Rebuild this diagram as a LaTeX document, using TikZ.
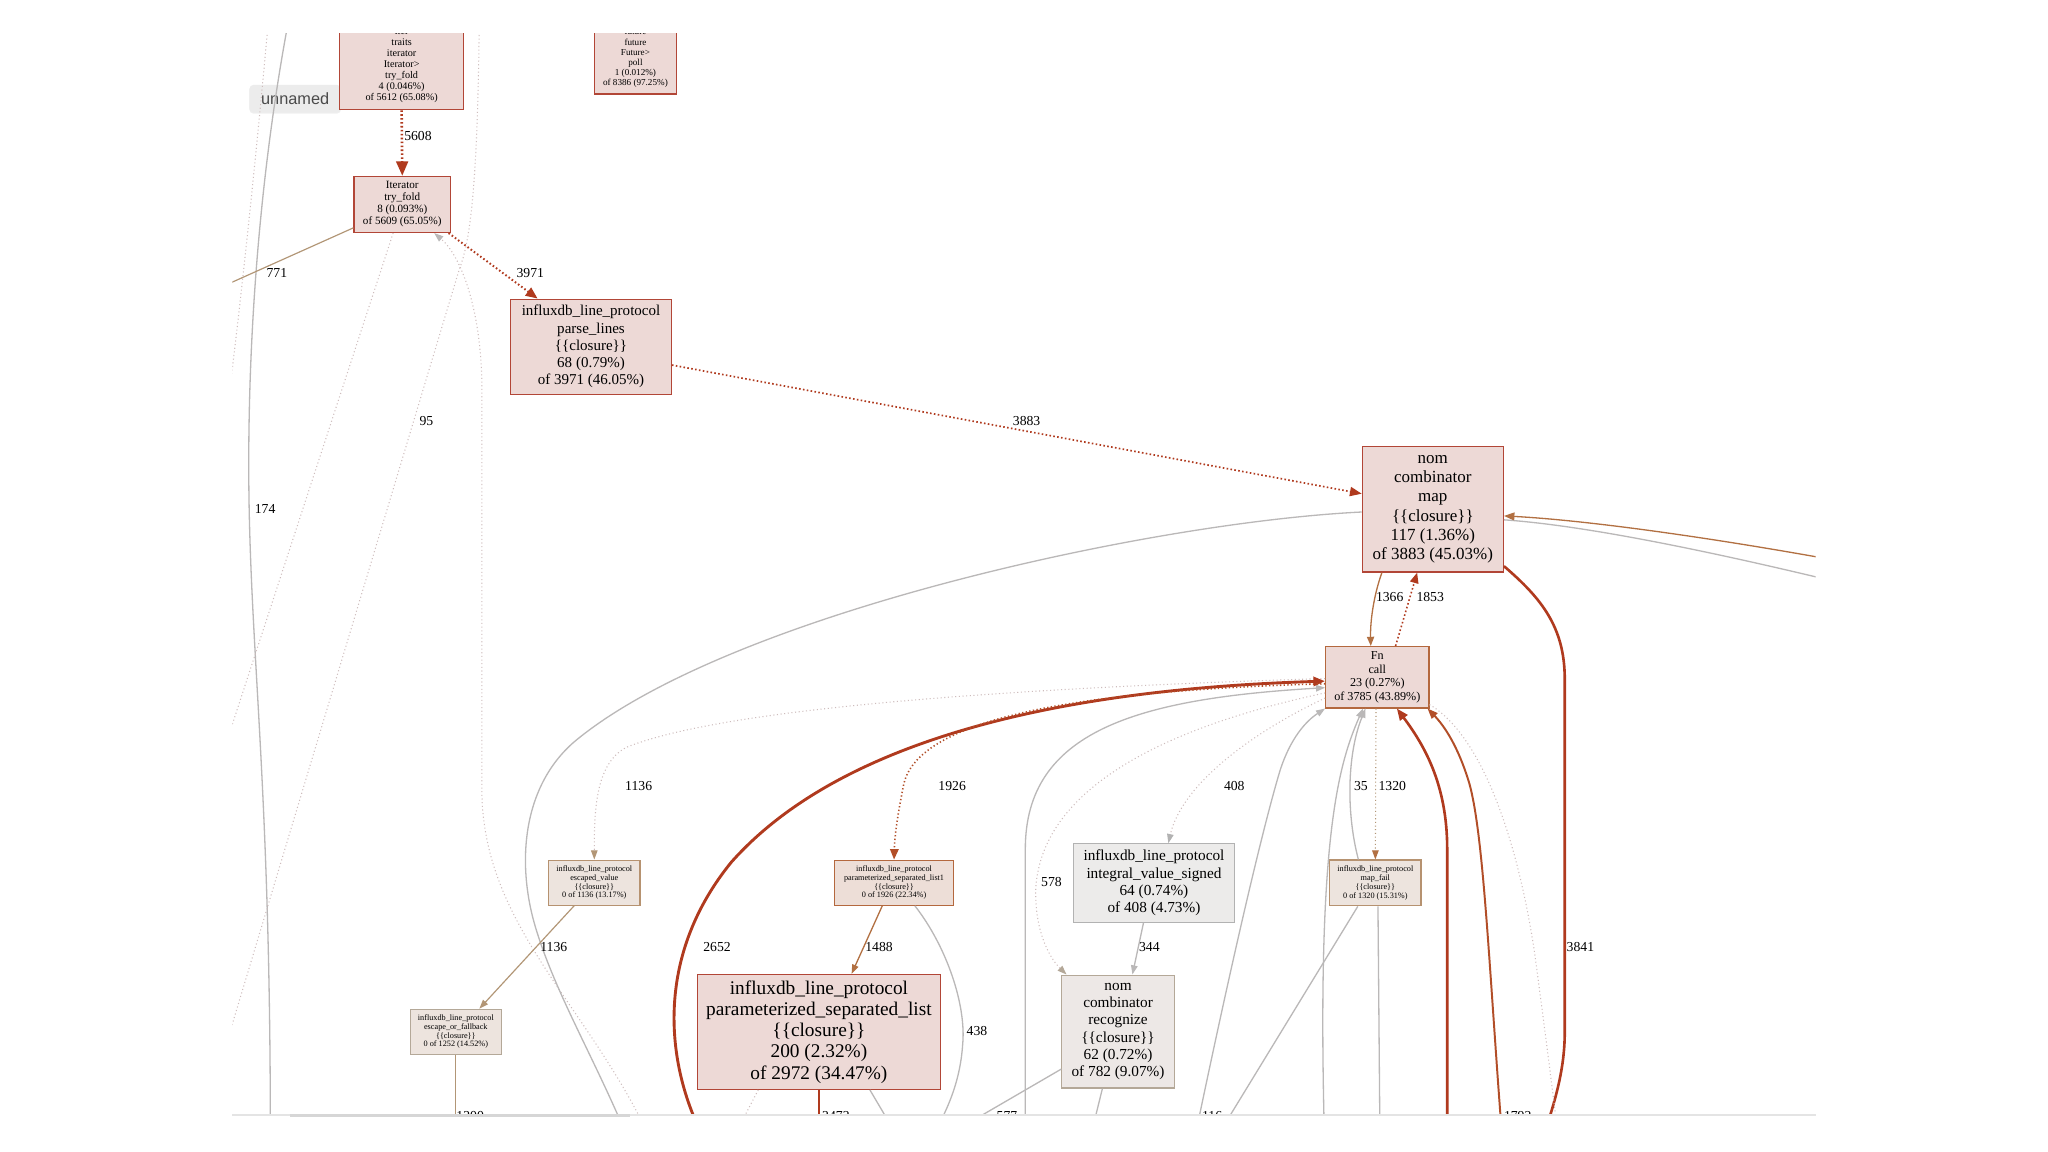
\documentclass[tikz,border=0pt]{standalone}
\usepackage{fontspec}
\setmainfont{Liberation Serif}
\newfontfamily\uifont{Liberation Sans}
\usepackage{tikz}
\usetikzlibrary{arrows.meta, calc, shadows}
\definecolor{hotred}{RGB}{176,58,30}
\definecolor{warmred}{RGB}{178,78,40}
\definecolor{brownedge}{RGB}{178,112,66}
\definecolor{tanedge}{RGB}{178,150,118}
\definecolor{greyedge}{RGB}{186,184,184}
\definecolor{faintedge}{RGB}{206,188,188}
\definecolor{hotfill}{RGB}{237,217,214}
\definecolor{hotborder}{RGB}{178,70,55}
\definecolor{warmfill}{RGB}{237,222,215}
\definecolor{warmborder}{RGB}{180,104,62}
\definecolor{tanfill}{RGB}{237,228,222}
\definecolor{tanborder}{RGB}{182,146,112}
\definecolor{coolfill}{RGB}{236,235,234}
\definecolor{coolborder}{RGB}{178,178,178}
\definecolor{ashfill}{RGB}{237,232,230}
\definecolor{ashborder}{RGB}{180,168,152}
\definecolor{tipgrey}{RGB}{236,236,236}
\definecolor{tiptext}{RGB}{75,75,75}
\definecolor{framegrey}{RGB}{228,228,228}
\definecolor{bargrey}{RGB}{214,214,214}

\tikzset{
  fnode/.style={draw, rectangle, inner sep=0pt, align=center, line width=0.9pt},
  hotnode/.style={fnode, fill=hotfill, draw=hotborder},
  warmnode/.style={fnode, fill=warmfill, draw=warmborder},
  tannode/.style={fnode, fill=tanfill, draw=tanborder},
  coolnode/.style={fnode, fill=coolfill, draw=coolborder},
  ashnode/.style={fnode, fill=ashfill, draw=ashborder},
  elabel/.style={inner sep=0pt, font=\fontsize{10.5}{12}\selectfont},
  hotline/.style={draw=hotred, line width=2pt},
  hotdot/.style={draw=hotred, line width=1.5pt, dash pattern=on 1.2pt off 1.8pt},
  warmdot/.style={draw=warmred, line width=1.2pt, dash pattern=on 1pt off 1.8pt},
  brownline/.style={draw=brownedge, line width=1pt},
  tanline/.style={draw=tanedge, line width=0.9pt},
  greyline/.style={draw=greyedge, line width=1pt},
  faintdot/.style={draw=faintedge, line width=0.8pt, dash pattern=on 0.8pt off 2pt}
}

\begin{document}
\begin{tikzpicture}[x=1pt, y=-1pt]
\useasboundingbox (0,0) rectangle (1568,882);
\fill[white] (0,0) rectangle (1568,882);

\begin{scope}
\clip (178,26) rectangle (1390,853);

% tooltip of the viewer
\node[fill=tipgrey, rounded corners=3pt, minimum width=70pt, minimum height=21pt, inner sep=0pt, text=tiptext, font=\uifont\fontsize{12.5}{14}\selectfont, drop shadow={opacity=0.12, shadow xshift=0pt, shadow yshift=-1pt}] (unnamed) at (226,75.5) {unnamed};

% call graph nodes
\node[hotnode, minimum width=95pt, minimum height=68pt, font=\fontsize{7.8}{8.4}\selectfont] (trt) at (307.5,50) {iter\\traits\\iterator\\Iterator>\\try\_fold\\4 (0.046\%)\\of 5612 (65.08\%)};
\node[hotnode, minimum width=63pt, minimum height=55pt, font=\fontsize{7}{7.8}\selectfont] (fpoll) at (486.5,44.5) {future\\future\\Future>\\poll\\1 (0.012\%)\\of 8386 (97.25\%)};
\node[hotnode, minimum width=74pt, minimum height=43pt, font=\fontsize{8.5}{9.2}\selectfont] (itf) at (308,156.5) {Iterator\\try\_fold\\8 (0.093\%)\\of 5609 (65.05\%)};
\node[hotnode, minimum width=123pt, minimum height=73pt, font=\fontsize{11.5}{13.2}\selectfont] (pl) at (452.5,265.5) {influxdb\_line\_protocol\\parse\_lines\\\{\{closure\}\}\\68 (0.79\%)\\of 3971 (46.05\%)};
\node[hotnode, minimum width=108pt, minimum height=96pt, font=\fontsize{13}{14.7}\selectfont] (nmap) at (1097,390) {nom\\combinator\\map\\\{\{closure\}\}\\117 (1.36\%)\\of 3883 (45.03\%)};
\node[hotnode, draw=warmborder, minimum width=79pt, minimum height=47pt, font=\fontsize{9.3}{10.5}\selectfont] (fncall) at (1054.5,518.5) {Fn\\call\\23 (0.27\%)\\of 3785 (43.89\%)};
\node[tannode, minimum width=70pt, minimum height=34.5pt, font=\fontsize{6.3}{6.7}\selectfont] (escv) at (455,675.8) {influxdb\_line\_protocol\\escaped\_value\\\{\{closure\}\}\\0 of 1136 (13.17\%)};
\node[warmnode, minimum width=91pt, minimum height=34.5pt, font=\fontsize{6.3}{6.7}\selectfont] (psl1) at (684.5,675.8) {influxdb\_line\_protocol\\parameterized\_separated\_list1\\\{\{closure\}\}\\0 of 1926 (22.34\%)};
\node[tannode, minimum width=70pt, minimum height=35pt, font=\fontsize{6.3}{6.7}\selectfont] (mapf) at (1053,676) {influxdb\_line\_protocol\\map\_fail\\\{\{closure\}\}\\0 of 1320 (15.31\%)};
\node[tannode, draw=ashborder, minimum width=70pt, minimum height=34.5pt, font=\fontsize{6.3}{6.7}\selectfont] (eof) at (349,790) {influxdb\_line\_protocol\\escape\_or\_fallback\\\{\{closure\}\}\\0 of 1252 (14.52\%)};
\node[hotnode, minimum width=186pt, minimum height=88pt, font=\fontsize{14.8}{16.3}\selectfont] (psl) at (627,790) {influxdb\_line\_protocol\\parameterized\_separated\_list\\\{\{closure\}\}\\200 (2.32\%)\\of 2972 (34.47\%)};
\node[coolnode, minimum width=123pt, minimum height=60pt, font=\fontsize{11.7}{13.3}\selectfont] (ivs) at (883.5,676) {influxdb\_line\_protocol\\integral\_value\_signed\\64 (0.74\%)\\of 408 (4.73\%)};
\node[ashnode, minimum width=86pt, minimum height=86.5pt, font=\fontsize{11.7}{13.3}\selectfont] (nrec) at (856,789.8) {nom\\combinator\\recognize\\\{\{closure\}\}\\62 (0.72\%)\\of 782 (9.07\%)};

% ends of edges that leave the view
\coordinate (topa) at (206,10);
\coordinate (lefta) at (172,330);
\coordinate (top174) at (222,10);
\coordinate (bot174) at (207,870);
\coordinate (off771) at (160,224);
\coordinate (offb) at (163,600);
\coordinate (top95) at (367,10);
\coordinate (bot95) at (152,870);
\coordinate (botd) at (497,870);
\coordinate (botg) at (480,870);
\coordinate (bot2652) at (538,870);
\coordinate (botgf) at (785,870);
\coordinate (bot438) at (714,870);
\coordinate (botpg) at (687,870);
\coordinate (botpd) at (562,870);
\coordinate (bot2472) at (627,870);
\coordinate (bot1200) at (349,870);
\coordinate (bot577) at (724,870);
\coordinate (botnr) at (835,870);
\coordinate (bot116) at (915,870);
\coordinate (botml) at (932,870);
\coordinate (botmd) at (1056.5,870);
\coordinate (bot24) at (1014,870);
\coordinate (botr) at (1108,870);
\coordinate (bot1792) at (1150,870);
\coordinate (botdr) at (1193,870);
\coordinate (bot3841) at (1180,875);
\coordinate (rbrown) at (1400,428);
\coordinate (rgrey) at (1400,444);

% left side
\draw[faintdot] (topa) .. controls (198,100) and (186,220) .. (lefta);
\draw[greyline] (top174) .. controls (197,140) and (188,280) .. (191,400) .. controls (194,520) and (207,620) .. (bot174);
\draw[tanline] ($(itf.south west)+(0,-4)$) -- (off771);
\draw[faintdot] ($(itf.south)+(-7,0)$) -- (offb);
\draw[faintdot] (top95) .. controls (366,120) and (362,180) .. (352,205) -- (bot95);
\draw[faintdot, -{Triangle[length=7pt,width=5pt,color=greyedge]}] (botd) .. controls (450,770) and (372,710) .. (369,610) -- (369,300) .. controls (369,235) and (352,195) .. ($(itf.south east)+(-13,0)$);
\draw[greyline] ($(nmap.west)+(0,2)$) .. controls (880,400) and (560,470) .. (442,566) .. controls (400,600) and (395,660) .. (410,710) .. controls (425,760) and (455,810) .. (botg);

% hot path
\draw[hotdot, line width=2pt, -{Triangle[length=11pt,width=9pt]}] (trt.south) -- (itf.north);
\draw[hotdot, -{Triangle[length=9pt,width=7.5pt]}] ($(itf.south east)+(-2,0)$) -- ($(pl.north west)+(21,0)$);
\draw[hotdot, line width=1.3pt, -{Triangle[length=9pt,width=7pt]}] ($(pl.east)+(0,14)$) -- ($(nmap.west)+(0,-12)$);
\draw[brownline, -{Triangle[length=7pt,width=5.5pt]}] ($(nmap.south)+(-39,0)$) .. controls (1052,455) and (1049,475) .. ($(fncall.north)+(-5,0)$);
\draw[hotdot, line width=1.2pt, -{Triangle[length=8pt,width=6.5pt]}] ($(fncall.north)+(14,0)$) -- ($(nmap.south)+(-12,0)$);
\draw[hotline] ($(nmap.south east)+(0,-5)$) .. controls (1180,458) and (1198,480) .. (1198,520) -- (1198,790) .. controls (1198,820) and (1190,845) .. (bot3841);
\draw[greyline] (rgrey) .. controls (1300,420) and (1210,402) .. ($(nmap.east)+(0,8)$);
\draw[brownline, -{Triangle[length=8pt,width=6pt]}] (rbrown) .. controls (1300,410) and (1210,398) .. ($(nmap.east)+(0,5)$);

% out of Fn call
\draw[faintdot, -{Triangle[length=7pt,width=5pt,color=tanedge]}] ($(fncall.west)+(0,1)$) .. controls (800,526) and (560,540) .. (480,572) .. controls (456,584) and (455,620) .. (escv.north);
\draw[greyline, -{Triangle[length=7pt,width=5pt]}] (botgf) -- (785,650) .. controls (785,560) and (870,535) .. ($(fncall.west)+(0,8)$);
\draw[hotline, line width=2.2pt, -{Triangle[length=9pt,width=7pt]}] (bot2652) .. controls (508,810) and (503,730) .. (560,660) .. controls (640,570) and (800,528) .. ($(fncall.west)+(0,3)$);
\draw[warmdot, -{Triangle[length=8pt,width=6.5pt]}] ($(fncall.west)+(0,5)$) .. controls (850,528) and (705,545) .. (692,600) .. controls (687,625) and (685,640) .. (psl1.north);
\draw[faintdot, -{Triangle[length=7pt,width=5pt,color=ashborder]}] ($(fncall.west)+(0,12)$) .. controls (900,555) and (798,600) .. (793,680) .. controls (792,715) and (805,735) .. ($(nrec.north west)+(4,0)$);
\draw[faintdot, -{Triangle[length=7pt,width=5pt,color=coolborder]}] ($(fncall.south west)+(0,-8)$) .. controls (960,560) and (905,600) .. ($(ivs.north)+(11,0)$);
\draw[greyline, -{Triangle[length=7pt,width=5pt]}] (bot116) .. controls (940,750) and (965,640) .. (980,590) .. controls (988,565) and (1000,552) .. (fncall.south west);
\draw[greyline, -{Triangle[length=7pt,width=5pt]}] (bot24) .. controls (1008,640) and (1025,585) .. ($(fncall.south)+(-11,0)$);
\draw[greyline, -{Triangle[length=7pt,width=5pt]}] ($(mapf.north)+(-13,0)$) .. controls (1030,620) and (1032,575) .. ($(fncall.south)+(-9,0)$);
\draw[faintdot, draw=tanedge, -{Triangle[length=7pt,width=5pt,color=brownedge]}] ($(fncall.south)+(-1,0)$) -- (mapf.north);
\draw[hotline, -{Triangle[length=9pt,width=7pt]}] (botr) -- (1108,650) .. controls (1108,600) and (1090,570) .. ($(fncall.south east)+(-25,0)$);
\draw[hotline, draw=warmred, line width=1.5pt, -{Triangle[length=8pt,width=6pt]}] (bot1792) .. controls (1140,740) and (1136,640) .. (1125,600) .. controls (1116,570) and (1105,555) .. ($(fncall.south east)+(-1.5,0)$);
\draw[faintdot] ($(fncall.south east)+(0,-3)$) .. controls (1130,560) and (1160,630) .. (1175,730) .. controls (1183,790) and (1188,830) .. (botdr);

% lower nodes
\draw[greyline, -{Triangle[length=7pt,width=5pt]}] ($(ivs.south)+(-8,0)$) -- ($(nrec.north)+(11,0)$);
\draw[brownline, -{Triangle[length=7pt,width=5pt]}] ($(psl1.south)+(-9,0)$) -- ($(psl.north)+(25,0)$);
\draw[greyline] ($(psl1.south east)+(-30,0)$) .. controls (725,725) and (740,770) .. (737,800) .. controls (735,830) and (724,852) .. (bot438);
\draw[greyline] ($(psl.south)+(39,0)$) -- (botpg);
\draw[faintdot] ($(psl.south west)+(47,0)$) -- (botpd);
\draw[hotline, line width=1.8pt] (psl.south) -- (bot2472);
\draw[tanline, -{Triangle[length=7pt,width=5pt]}] ($(escv.south west)+(20,0)$) -- ($(eof.north)+(18,0)$);
\draw[tanline] (eof.south) -- (bot1200);
\draw[greyline] ($(nrec.south west)+(0,-15)$) -- (bot577);
\draw[greyline] ($(nrec.south)+(-12,0)$) -- (botnr);
\draw[greyline] ($(mapf.south west)+(22,0)$) -- (botml);
\draw[greyline] ($(mapf.south)+(2,0)$) -- (botmd);

% edge labels
\node[elabel] (l5608) at (320,104) {5608};
\node[elabel] (l3971) at (406,209) {3971};
\node[elabel] (l771) at (212,209) {771};
\node[elabel] (l95) at (326.5,322) {95};
\node[elabel] (l174) at (203,390) {174};
\node[elabel] (l3883) at (786,322) {3883};
\node[elabel] (l1366) at (1064,457) {1366};
\node[elabel] (l1853) at (1095,457) {1853};
\node[elabel] (l1136a) at (489,602) {1136};
\node[elabel] (l1926) at (729,602) {1926};
\node[elabel] (l408) at (945,602) {408};
\node[elabel] (l35) at (1042,602) {35};
\node[elabel] (l1320) at (1066,602) {1320};
\node[elabel] (l578) at (805,675) {578};
\node[elabel] (l1136b) at (424,725) {1136};
\node[elabel] (l2652) at (549,725) {2652};
\node[elabel] (l1488) at (673,725) {1488};
\node[elabel] (l344) at (880,725) {344};
\node[elabel] (l3841) at (1210,725) {3841};
\node[elabel] (l438) at (748,789) {438};
\node[elabel] (l1200) at (360,854.5) {1200};
\node[elabel] (l2472) at (640,854.5) {2472};
\node[elabel] (l577) at (771,854.5) {577};
\node[elabel] (l116) at (928,854.5) {116};
\node[elabel] (l1792) at (1162,854.5) {1792};
\end{scope}

% frame of the view
\draw[draw=framegrey, line width=1.2pt] (178,853.5) -- (1390,853.5);
\draw[draw=bargrey, line width=2.5pt] (222,854) -- (482,854);
\end{tikzpicture}
\end{document}
